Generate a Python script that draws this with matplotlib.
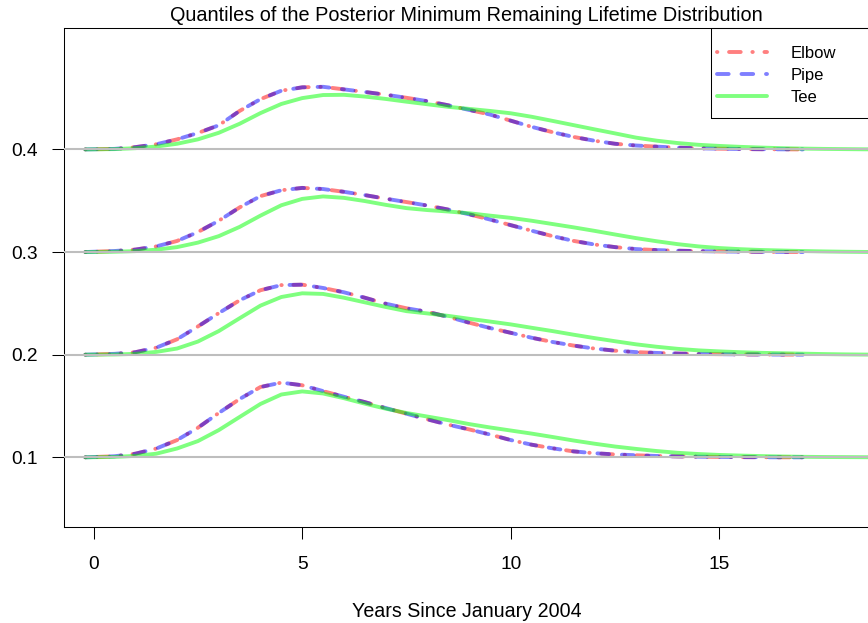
import matplotlib
matplotlib.use("Agg")
import matplotlib.pyplot as plt
from matplotlib.patches import Rectangle

plt.rcParams['font.family'] = ['Liberation Sans', 'DejaVu Sans']

# years since Jan 2004 at which the densities were evaluated
years = [-0.2, 0.5, 1.0, 1.5, 2.0, 2.5, 3.0, 3.5, 4.0, 4.5, 5.0, 5.5, 6.0, 6.5,
         7.0, 7.5, 8.0, 8.5, 9.0, 9.5, 10.0, 10.5, 11.0, 11.5, 12.0, 12.5,
         13.0, 13.5, 14.0, 14.5, 15.0, 15.5, 16.0, 16.5, 17.0, 17.5, 18.0,
         18.5, 19.0]

quantiles = [0.1, 0.2, 0.3, 0.4]

# density heights (above the quantile line), Elbow
elbow_10 = [0, 0.001, 0.0035, 0.0085, 0.0168, 0.0288, 0.0432, 0.0568, 0.0685,
            0.0728, 0.0702, 0.0645, 0.059, 0.0538, 0.048, 0.0425, 0.037,
            0.0318, 0.0272, 0.0222, 0.0168, 0.0123, 0.0088, 0.0058, 0.004,
            0.0028, 0.002, 0.0013, 0.0009, 0.0006, 0.0004, 0.0002, 0.0001,
            0.0, 0.0]
elbow_20 = [0, 0.0008, 0.0024, 0.0068, 0.015, 0.0275, 0.0405, 0.053, 0.0628,
            0.0678, 0.0682, 0.065, 0.0608, 0.0555, 0.0497, 0.0452, 0.0418,
            0.0368, 0.0312, 0.026, 0.0213, 0.0165, 0.0124, 0.0089, 0.006,
            0.0039, 0.0025, 0.0017, 0.0011, 0.0007, 0.0005, 0.0003, 0.0002,
            0.0001, 0.0]
elbow_30 = [0, 0.001, 0.0024, 0.0055, 0.0108, 0.0195, 0.0305, 0.0435, 0.0545,
            0.0602, 0.0625, 0.0614, 0.0587, 0.0555, 0.052, 0.0487, 0.0453,
            0.0414, 0.0368, 0.0317, 0.0262, 0.0208, 0.0155, 0.0109, 0.0074,
            0.0048, 0.0029, 0.0019, 0.0013, 0.0009, 0.0006, 0.0004, 0.0002,
            0.0001, 0.0]
elbow_40 = [0, 0.0005, 0.0022, 0.005, 0.0098, 0.016, 0.0235, 0.0375, 0.049,
            0.0572, 0.0605, 0.061, 0.0585, 0.056, 0.0533, 0.0503, 0.047,
            0.043, 0.0385, 0.034, 0.028, 0.022, 0.0168, 0.0122, 0.0085,
            0.0055, 0.0038, 0.0027, 0.0017, 0.0011, 0.0007, 0.0004, 0.0002,
            0.0001, 0.0]

# Pipe is indistinguishable from Elbow at this resolution
pipe_10 = list(elbow_10)
pipe_20 = list(elbow_20)
pipe_30 = list(elbow_30)
pipe_40 = list(elbow_40)

# Tee
tee_10 = [0, 0.0004, 0.0014, 0.0035, 0.0086, 0.0158, 0.0265, 0.0393, 0.052,
          0.0612, 0.0642, 0.0622, 0.0576, 0.0523, 0.0474, 0.0432, 0.0397,
          0.0362, 0.0324, 0.0291, 0.0261, 0.0231, 0.0198, 0.0164, 0.0133,
          0.0105, 0.0082, 0.0061, 0.0044, 0.0032, 0.0023, 0.0017, 0.0012,
          0.0008, 0.0005, 0.0003, 0.0002, 0.0001, 0.0]
tee_20 = [0, 0.0002, 0.0008, 0.0027, 0.006, 0.0128, 0.023, 0.0355, 0.0478,
          0.0562, 0.0598, 0.0592, 0.0555, 0.051, 0.0465, 0.0424, 0.0402,
          0.0378, 0.035, 0.0323, 0.0295, 0.0262, 0.023, 0.0195, 0.0162,
          0.0131, 0.0101, 0.0077, 0.0057, 0.0042, 0.0032, 0.0024, 0.0018,
          0.0014, 0.001, 0.0006, 0.0003, 0.0001, 0.0]
tee_30 = [0, 0.0003, 0.0009, 0.0023, 0.0048, 0.0092, 0.0155, 0.0245, 0.0355,
          0.0456, 0.0518, 0.0542, 0.0528, 0.0497, 0.046, 0.0428, 0.0409,
          0.0395, 0.0378, 0.0355, 0.0333, 0.0305, 0.0273, 0.0241, 0.0207,
          0.0171, 0.0136, 0.0105, 0.0077, 0.0055, 0.0039, 0.0028, 0.002,
          0.0015, 0.001, 0.0006, 0.0003, 0.0001, 0.0]
tee_40 = [0, 0.0003, 0.0012, 0.0028, 0.0055, 0.0098, 0.0162, 0.025, 0.0354,
          0.0443, 0.05, 0.053, 0.0532, 0.0515, 0.0492, 0.0465, 0.044,
          0.0415, 0.0395, 0.0375, 0.0352, 0.0318, 0.0278, 0.0237, 0.0196,
          0.0156, 0.0115, 0.0085, 0.0062, 0.0045, 0.0034, 0.0025, 0.0018,
          0.0012, 0.0008, 0.0005, 0.0003, 0.0001, 0.0]

elbow = [elbow_10, elbow_20, elbow_30, elbow_40]
pipe = [pipe_10, pipe_20, pipe_30, pipe_40]
tee = [tee_10, tee_20, tee_30, tee_40]

W, H = 868, 623
fig = plt.figure(figsize=(W / 100, H / 100), dpi=100)
ax = fig.add_axes([63.7 / W, (H - 527) / H, (870 - 63.7) / W, (527 - 27.8) / H])

red = (1, 0, 0, 0.5)
blue = (0, 0, 1, 0.5)
green = (0, 1, 0, 0.5)
lw = 2.8

for i, q in enumerate(quantiles):
    e = elbow[i]
    p = pipe[i]
    t = tee[i]
    ax.plot(years[:len(e)], [q + v for v in e], color=red, lw=lw,
            ls=(0, (0.1, 3, 3, 3)), dash_capstyle='round',
            label='Elbow' if i == 0 else None)
    ax.plot(years[:len(p)], [q + v for v in p], color=blue, lw=lw,
            ls=(0, (3, 3.3)), dash_capstyle='round',
            label='Pipe' if i == 0 else None)
    ax.plot(years[:len(t)], [q + v for v in t], color=green, lw=lw,
            solid_capstyle='round', label='Tee' if i == 0 else None)
    ax.axhline(q, color='#BEBEBE', lw=1.5, zorder=3)

ax.set_xlim(-0.717, 18.61)
ax.set_ylim(0.0321, 0.5185)
ax.set_xticks([0, 5, 10, 15])
ax.set_xticklabels(['0', '5', '10', '15'])
ax.set_yticks(quantiles)
ax.set_yticklabels(['0.1', '0.2', '0.3', '0.4'])
ax.tick_params(axis='both', length=8.6, width=0.75, labelsize=13.8, color='black')
ax.tick_params(axis='x', pad=12.5)
ax.tick_params(axis='y', pad=10)
for s in ax.spines.values():
    s.set_linewidth(0.75)

fig.text((63.7 + 870) / 2 / W, 1 - 21 / H,
         'Quantiles of the Posterior Minimum Remaining Lifetime Distribution',
         ha='center', va='baseline', fontsize=14.3)
fig.text((63.7 + 870) / 2 / W, 1 - 617 / H, 'Years Since January 2004',
         ha='center', va='baseline', fontsize=14.1)

# legend box runs past the right edge like the plot frame
fig.patches.append(Rectangle((711 / W, (H - 118.4) / H), 200 / W, (118.4 - 27.8) / H,
                             transform=fig.transFigure, fill=False,
                             edgecolor='black', lw=0.75, zorder=5))
leg = ax.legend(loc='upper left', bbox_to_anchor=(717 / W, 1 - 45.6 / H),
                bbox_transform=fig.transFigure, frameon=False, borderpad=0,
                borderaxespad=0, fontsize=12, handlelength=3.0,
                handletextpad=1.42, labelspacing=0.44)

fig.savefig('out.png', dpi=100)
